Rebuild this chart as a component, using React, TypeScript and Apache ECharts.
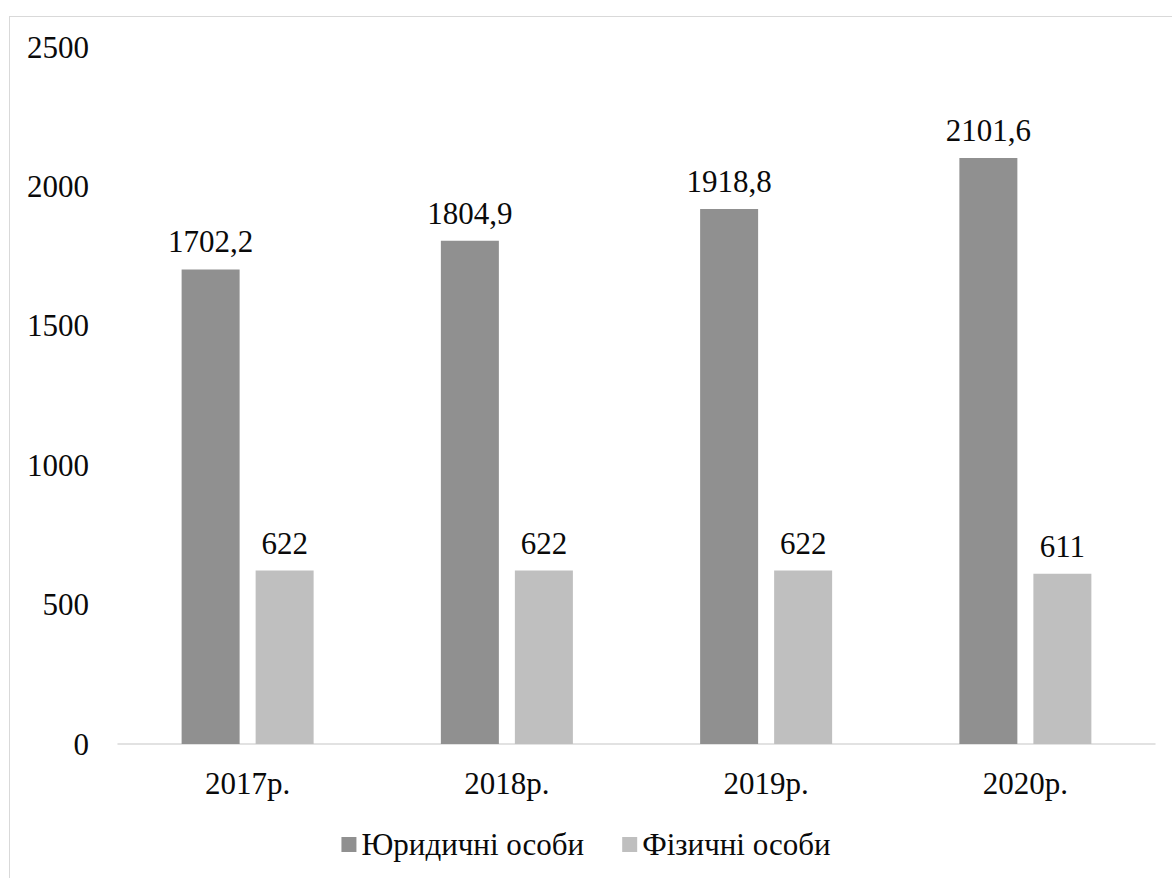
import React, { useEffect, useRef } from "react";
import * as echarts from "echarts";

const categories = ["2017р.", "2018р.", "2019р.", "2020р."];
const legalEntities = [1702.2, 1804.9, 1918.8, 2101.6];
const individuals = [622, 622, 622, 611];
const seriesNames = ["Юридичні особи", "Фізичні особи"];

const FONT = "Liberation Serif";
const FS = 31;
const INK = "#0a0a0a";

const fmt = (v: number) => String(v).replace(".", ",");

export default function App() {
  const ref = useRef<HTMLDivElement>(null);

  useEffect(() => {
    document.body.style.margin = "0";
    if (!ref.current) return;
    const chart = echarts.init(ref.current, undefined, { renderer: "svg" });
    chart.setOption({
      animation: false,
      textStyle: { fontFamily: FONT },
      grid: { left: 118, right: 17, top: 47, bottom: 134 },
      legend: {
        bottom: 13,
        left: "center",
        itemWidth: 15,
        itemHeight: 15,
        itemGap: 38,
        icon: "rect",
        textStyle: { fontFamily: FONT, fontSize: FS, color: INK },
        data: seriesNames,
      },
      xAxis: {
        type: "category",
        data: categories,
        axisLine: { lineStyle: { color: "#d9d9d9", width: 1.5 } },
        axisTick: { show: false },
        axisLabel: { fontFamily: FONT, fontSize: FS, color: INK, margin: 24 },
      },
      yAxis: {
        type: "value",
        min: 0,
        max: 2500,
        interval: 500,
        splitLine: { show: false },
        axisLine: { show: false },
        axisTick: { show: false },
        axisLabel: {
          fontFamily: FONT,
          fontSize: FS,
          color: INK,
          margin: 29,
          formatter: (v: number) => String(v),
        },
      },
      series: [
        {
          name: seriesNames[0],
          type: "bar",
          data: legalEntities,
          barWidth: 58,
          barGap: "27.6%",
          itemStyle: { color: "#909090" },
          label: {
            show: true,
            position: "top",
            distance: 12,
            fontFamily: FONT,
            fontSize: FS,
            color: INK,
            textBorderWidth: 0,
            formatter: (p: any) => fmt(p.value),
          },
        },
        {
          name: seriesNames[1],
          type: "bar",
          data: individuals,
          barWidth: 58,
          barGap: "27.6%",
          itemStyle: { color: "#bfbfbf" },
          label: {
            show: true,
            position: "top",
            distance: 12,
            fontFamily: FONT,
            fontSize: FS,
            color: INK,
            textBorderWidth: 0,
            formatter: (p: any) => fmt(p.value),
          },
        },
      ],
    });
    return () => chart.dispose();
  }, []);

  return (
    <div style={{ position: "relative", width: 1172, height: 878, overflow: "hidden", background: "#fff" }}>
      <div ref={ref} style={{ width: 1172, height: 878 }} />
      {/* chart frame, open to the right and bottom */}
      <div
        style={{
          position: "absolute",
          left: 9,
          top: 16,
          width: 1400,
          height: 1000,
          border: "1.5px solid #d9d9d9",
          pointerEvents: "none",
        }}
      />
    </div>
  );
}
